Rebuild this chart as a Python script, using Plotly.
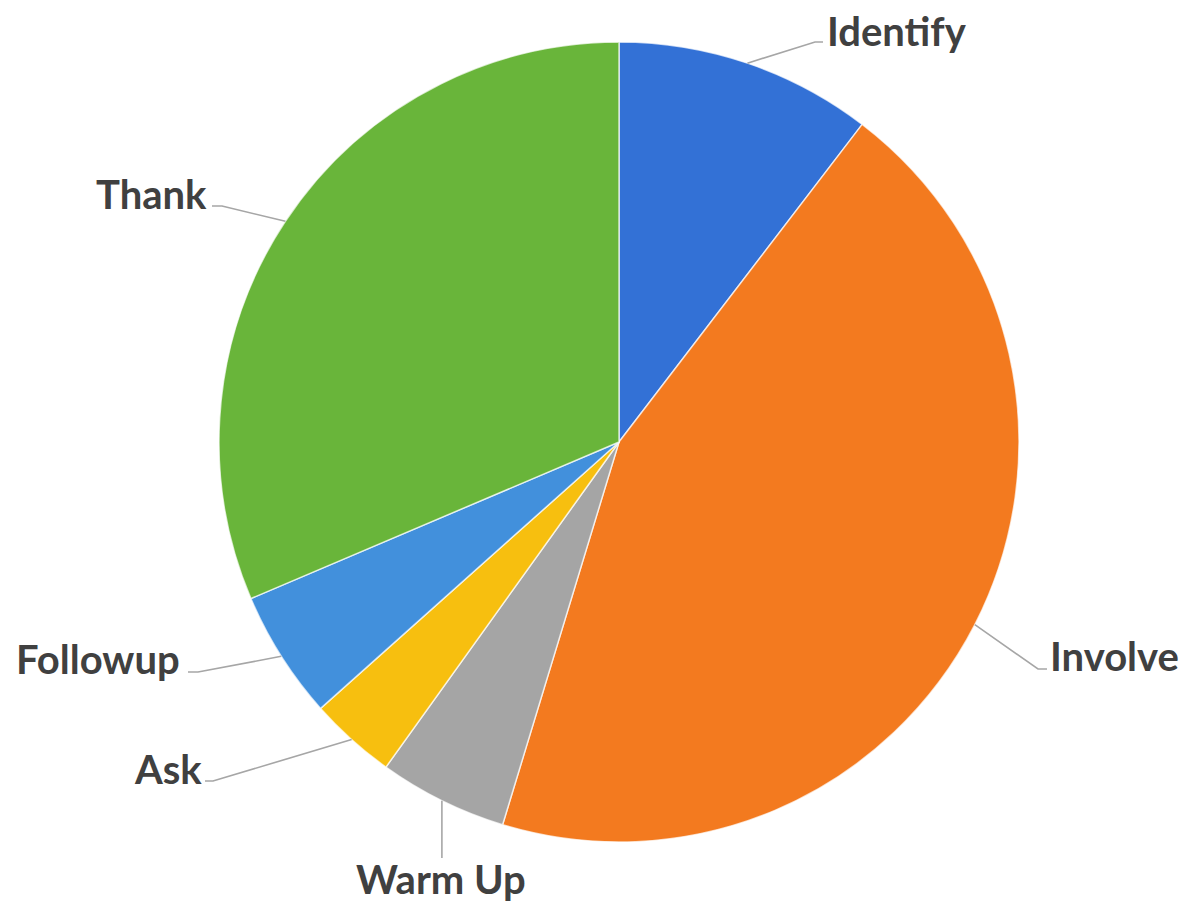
import math
import plotly.graph_objects as go

# ---- data ----
categories = ["Identify", "Involve", "Warm Up", "Ask", "Followup", "Thank"]
values = [10.4, 44.3, 5.2, 3.5, 5.2, 31.4]

# ---- style / layout ----
colors = ["#3371d6", "#f37a1f", "#a5a5a5", "#f7bf0f", "#4290dc", "#69b53a"]
W, H = 1188, 902
CX, CY, R = 619, 442, 400
# label centres and leader-line bend points in pixel space (layout only)
label_pos = {
    "Identify": (897, 31), "Involve": (1114, 656), "Warm Up": (441, 879),
    "Ask": (168, 769), "Followup": (98, 659), "Thank": (151, 194),
}
bend_pts = {
    "Identify": [(815, 42), (823, 42)],
    "Involve": [(1038, 669), (1047, 669)],
    "Warm Up": [(None, 858)],
    "Ask": [(213, 781), (205, 781)],
    "Followup": [(198, 672), (188, 672)],
    "Thank": [(222, 206), (212, 206)],
}


def px(x):
    return x / W


def py(y):
    return 1 - y / H


fig = go.Figure(go.Pie(
    labels=categories, values=values, sort=False, direction="clockwise",
    rotation=0, textinfo="none", hoverinfo="label+percent",
    marker=dict(colors=colors, line=dict(color="rgba(255,255,255,0.7)", width=1.5)),
    domain=dict(x=[px(CX - R), px(CX + R)], y=[py(CY + R), py(CY - R)]),
    showlegend=False,
))

total = sum(values)
cum = 0.0
shapes = []
annotations = []
for cat, v in zip(categories, values):
    mid = (cum + v / 2) / total * 2 * math.pi
    cum += v
    sx = CX + R * math.sin(mid)
    sy = CY - R * math.cos(mid)
    pts = [(sx, sy)]
    for bx, by in bend_pts[cat]:
        pts.append((sx if bx is None else bx, by))
    path = "M " + " L ".join(f"{px(x):.5f},{py(y):.5f}" for x, y in pts)
    shapes.append(dict(type="path", path=path, xref="paper", yref="paper",
                       line=dict(color="#a6a6a6", width=1.6)))
    lx, ly = label_pos[cat]
    annotations.append(dict(text=f"<b>{cat}</b>", x=px(lx), y=py(ly), xref="paper", yref="paper",
                            xanchor="center", yanchor="middle", showarrow=False,
                            font=dict(family="Lato", size=40, color="#404040")))

fig.update_layout(
    width=W, height=H, margin=dict(l=0, r=0, t=0, b=0),
    paper_bgcolor="white", plot_bgcolor="white",
    shapes=shapes, annotations=annotations,
)
fig.write_html("out.html")
